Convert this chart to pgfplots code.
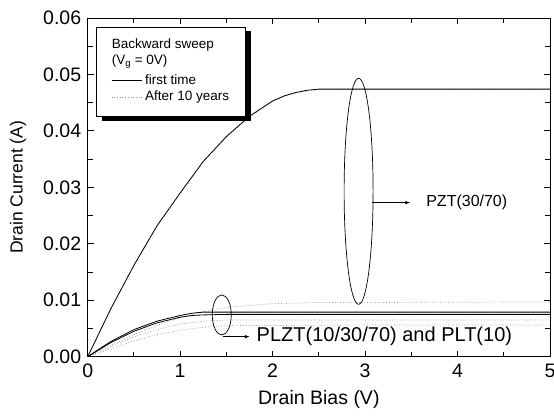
\documentclass[border=0pt]{standalone}
\usepackage{pgfplots}
\pgfplotsset{compat=1.18}
\usepackage{fontspec}
\setmainfont{Liberation Sans}
\usetikzlibrary{arrows.meta}

% Output characteristics, backward sweep (Vg = 0 V)
\pgfplotstableread{
V      I
0.00   0.0000
0.25   0.0085
0.50   0.0162
0.75   0.0232
1.00   0.0290
1.25   0.0346
1.50   0.0390
1.75   0.0426
2.00   0.0453
2.125  0.0462
2.25   0.0468
2.375  0.0472
2.50   0.0474
3.00   0.0474
4.00   0.0474
5.00   0.0474
}\pztfirst
\pgfplotstableread{
V      I
0.00   0.0000
0.25   0.0084
0.50   0.0161
0.75   0.0231
1.00   0.0289
1.25   0.0345
1.50   0.0389
1.75   0.0425
2.00   0.0452
2.125  0.0461
2.25   0.0467
2.375  0.0471
2.50   0.0473
3.00   0.0473
4.00   0.0473
5.00   0.0473
}\pztten
\pgfplotstableread{
V      I
0.00   0.0000
0.10   0.0011
0.25   0.0027
0.50   0.0048
0.75   0.0063
1.00   0.0073
1.125  0.0077
1.25   0.0079
1.50   0.0079
3.00   0.0079
5.00   0.0079
}\plztfirst
\pgfplotstableread{
V      I
0.00   0.0000
0.10   0.0010
0.25   0.0025
0.50   0.0045
0.75   0.0060
1.00   0.0070
1.125  0.0073
1.25   0.0074
1.50   0.0075
3.00   0.0075
5.00   0.0075
}\pltfirst
\pgfplotstableread{
V      I
0.00   0.0000
0.25   0.0020
0.50   0.0039
0.75   0.0056
1.00   0.0069
1.25   0.0080
1.50   0.0087
1.75   0.0091
2.00   0.0094
2.50   0.0096
3.00   0.0096
5.00   0.0097
}\plztten
\pgfplotstableread{
V      I
0.00   0.0000
0.25   0.0018
0.50   0.0035
0.75   0.0048
1.00   0.0058
1.25   0.0063
1.50   0.0065
3.00   0.0065
5.00   0.0065
}\pltten
\pgfplotstableread{
V      I
0.00   0.0000
0.25   0.0014
0.50   0.0028
0.75   0.0039
1.00   0.0047
1.25   0.0052
1.50   0.0055
3.00   0.0056
5.00   0.0056
}\plttenb

\begin{document}
\begin{tikzpicture}
\useasboundingbox (-87.7pt,-59.3pt) rectangle (466.3pt,356.7pt);
\begin{axis}[
  scale only axis,
  width=462.3pt, height=338.7pt,
  xmin=0, xmax=5, ymin=0, ymax=0.06,
  xtick={0,1,2,3,4,5},
  ytick={0,0.01,0.02,0.03,0.04,0.05,0.06},
  minor x tick num=1, minor y tick num=1,
  xtick pos=both, ytick pos=both,
  tick align=inside,
  major tick length=6pt, minor tick length=5pt,
  axis line style={line width=1pt},
  every tick/.style={black, line width=0.9pt},
  tick label style={font=\fontsize{19.5}{22}\selectfont},
  /pgf/number format/assume math mode=true,
  yticklabel style={/pgf/number format/fixed, /pgf/number format/fixed zerofill,
    /pgf/number format/precision=2, xshift=-3pt},
  xticklabel style={yshift=-4pt},
  scaled y ticks=false,
  xlabel={Drain Bias (V)},
  ylabel={Drain Current (A)},
  x label style={font=\fontsize{19.5}{22}\selectfont,
    at={([yshift=-42.5pt]axis description cs:0.5,0)}, anchor=center},
  y label style={font=\fontsize{17.5}{20}\selectfont,
    at={([xshift=-69.7pt]axis description cs:0,0.5)}, anchor=center},
]
% after 10 years (dotted)
\addplot[dotted, line width=0.7pt, black!45] table[x=V, y=I] {\pztten};
\addplot[dotted, line width=0.7pt, black!45] table[x=V, y=I] {\plztten};
\addplot[dotted, line width=0.7pt, black!45] table[x=V, y=I] {\pltten};
\addplot[dotted, line width=0.7pt, black!45] table[x=V, y=I] {\plttenb};
% first time (solid)
\addplot[solid, line width=0.8pt, black] table[x=V, y=I] {\pztfirst};
\addplot[solid, line width=0.8pt, black] table[x=V, y=I] {\plztfirst};
\addplot[solid, line width=0.8pt, black] table[x=V, y=I] {\pltfirst};

% group markers and labels
\draw[line width=0.7pt] (axis cs:2.93,0.0293) ellipse [x radius=14.5pt, y radius=113pt];
\draw[line width=0.7pt, -{Latex[length=5pt,width=3.5pt]}] (axis cs:3.08,0.0273) -- (axis cs:3.49,0.0273);
\node[anchor=west, inner sep=0pt, font=\fontsize{16}{18}\selectfont] at (axis cs:3.66,0.0273) {PZT(30/70)};

\draw[line width=0.7pt] (axis cs:1.45,0.0074) ellipse [x radius=9.5pt, y radius=20pt];
\draw[line width=0.7pt, -{Latex[length=5pt,width=3.5pt]}] (axis cs:1.464,0.00355) -- (axis cs:1.753,0.00355);
\node[anchor=west, inner sep=0pt, font=\fontsize{20}{22}\selectfont] at (axis cs:1.826,0.00355) {PLZT(10/30/70) and PLT(10)};

% legend box with shadow
\fill[black] ([xshift=6pt,yshift=-4pt]axis cs:0.09,0.05835) rectangle ([xshift=6pt,yshift=-4pt]axis cs:1.706,0.04252);
\draw[fill=white, line width=0.8pt] (axis cs:0.09,0.05835) rectangle (axis cs:1.706,0.04252);
\node[anchor=west, inner sep=0pt, font=\fontsize{13.5}{15}\selectfont] at (axis cs:0.259,0.05522) {Backward sweep};
\node[anchor=west, inner sep=0pt, font=\fontsize{13.5}{15}\selectfont] at (axis cs:0.259,0.05221) {(V\textsubscript{g} = 0V)};
\draw[line width=0.7pt] (axis cs:0.259,0.04902) -- (axis cs:0.583,0.04902);
\node[anchor=west, inner sep=0pt, font=\fontsize{13.5}{15}\selectfont] at (axis cs:0.619,0.04902) {first time};
\draw[dotted, line width=0.7pt, black!45] (axis cs:0.259,0.04601) -- (axis cs:0.583,0.04601);
\node[anchor=west, inner sep=0pt, font=\fontsize{13.5}{15}\selectfont] at (axis cs:0.619,0.04601) {After 10 years};
\end{axis}
\end{tikzpicture}
\end{document}
